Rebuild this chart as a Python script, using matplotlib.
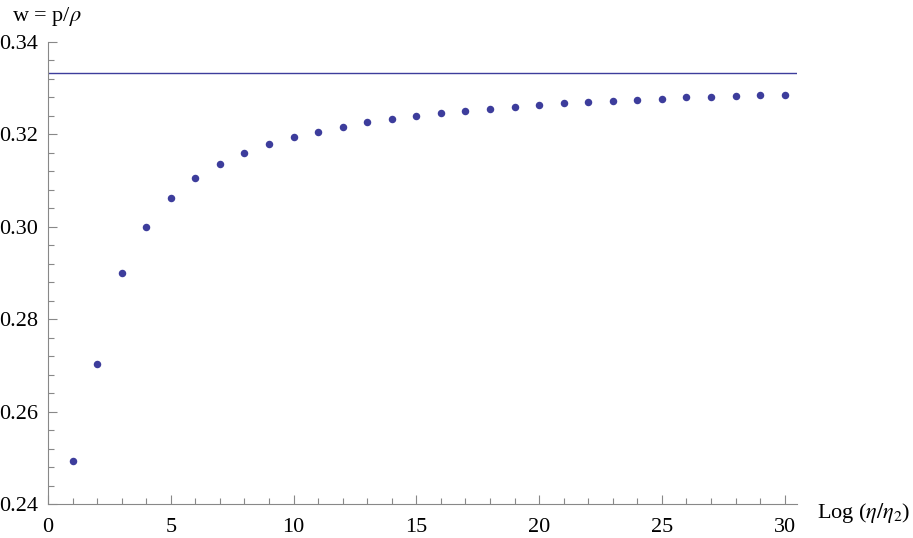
import numpy as np
from matplotlib import pyplot as plt
from matplotlib.ticker import MultipleLocator

plt.rcParams['font.family'] = ['Liberation Serif', 'DejaVu Serif']
plt.rcParams['mathtext.fontset'] = 'stix'

# values
n = np.arange(1, 31)
w = [0.2492, 0.2703, 0.2901, 0.3000, 0.3063, 0.3105, 0.3136, 0.3160,
     0.3179, 0.3195, 0.3206, 0.3217, 0.3226, 0.3233, 0.3240, 0.3246,
     0.3251, 0.3255, 0.3259, 0.3263, 0.3267, 0.3270, 0.3272, 0.3275,
     0.3277, 0.3280, 0.3281, 0.3283, 0.3285, 0.3286]
w_limit = 1.0 / 3.0

col = '#3d3d9c'
axcol = '#888888'

fig = plt.figure(figsize=(9.13, 5.38), dpi=100)
ax = fig.add_axes([48 / 913, 1 - 504 / 538, 749 / 913, 462 / 538])

ax.axhline(w_limit, color=col, lw=1.0)
ax.plot(n, w, 'o', color=col, ms=5.4, mec='none')

ax.set_xlim(0, 30.5)
ax.set_ylim(0.24, 0.34)
ax.xaxis.set_major_locator(MultipleLocator(5))
ax.xaxis.set_minor_locator(MultipleLocator(1))
ax.yaxis.set_major_locator(MultipleLocator(0.02))
ax.yaxis.set_minor_locator(MultipleLocator(0.004))
ax.yaxis.set_major_formatter(plt.FormatStrFormatter('%.2f'))

for s in ['top', 'right']:
    ax.spines[s].set_visible(False)
for s in ['left', 'bottom']:
    ax.spines[s].set_color(axcol)
    ax.spines[s].set_linewidth(0.8)

ax.tick_params(which='both', direction='in', color=axcol, width=0.8,
               labelsize=16)
ax.tick_params(which='major', length=6.3)
ax.tick_params(which='minor', length=4.3)
ax.tick_params(axis='y', pad=7)
ax.tick_params(axis='x', pad=10)

fig.text(12 / 913, 1 - 21 / 538, r'w = p/$\rho$', fontsize=16,
         ha='left', va='baseline')
ax.text(1.027, -0.02, r'Log ($\eta/\eta_2$)', transform=ax.transAxes,
        fontsize=16, ha='left', va='center')

plt.savefig('out.png', dpi=100)
